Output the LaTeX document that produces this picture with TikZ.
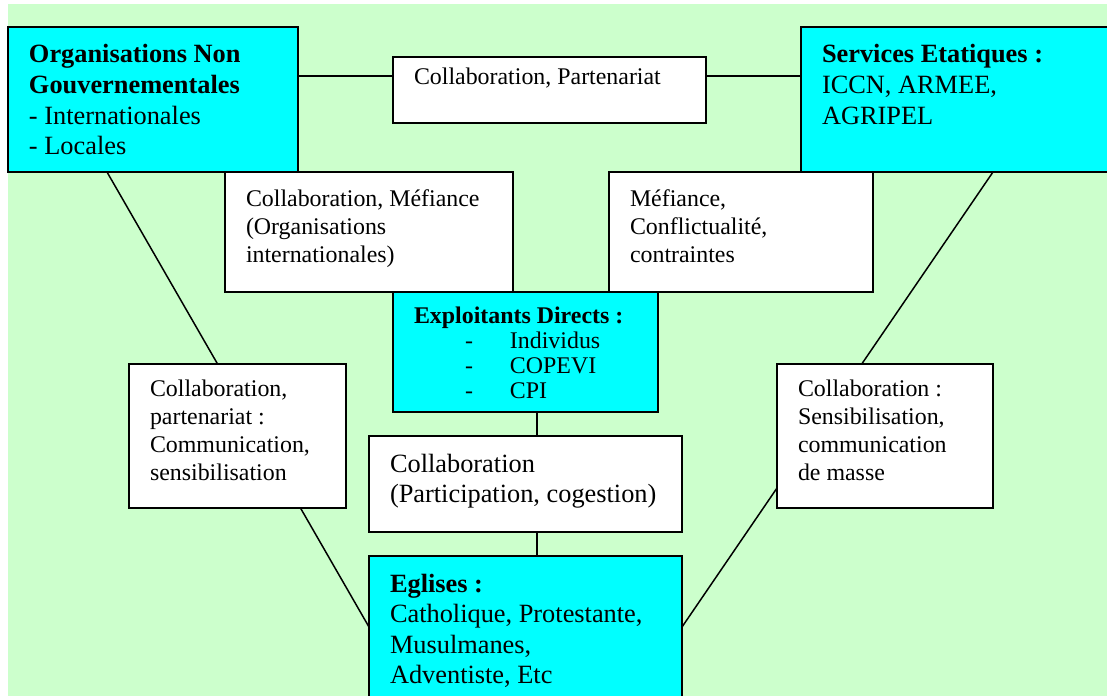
\documentclass[tikz,border=0pt]{standalone}
\usepackage{fontspec}
\setmainfont{Liberation Serif}
\usetikzlibrary{calc,backgrounds}

\newlength{\px}
\setlength{\px}{0.02cm}
\definecolor{fond}{HTML}{CCFFCC}
\definecolor{bleu}{HTML}{00FFFF}
\newcommand{\grand}{\fontsize{15}{17.4}\selectfont}
\newcommand{\petit}{\fontsize{13.6}{15.9}\selectfont}
% width, height, first baseline, text
\newcommand{\cadre}[4]{\parbox[t][#2\px][t]{#1\px}{\raggedright\leftskip=21\px\rule{0pt}{#3\px}#4}}
\newcommand{\tiret}[1]{\hspace*{51\px}\makebox[45\px][l]{-}#1}

\tikzset{
  acteur/.style={draw, fill=bleu, line width=1.1pt, inner sep=0pt, outer sep=0pt, anchor=north west},
  relation/.style={acteur, fill=white},
  lien/.style={line width=0.85pt}
}

\begin{document}
\begin{tikzpicture}[x=0.02cm, y=-0.02cm]
  \useasboundingbox (0,0) rectangle (1107,696);

  % actors
  \node[acteur] (ngo) at (8,27) {\cadre{290}{145}{36}{\grand\textbf{Organisations Non}\\
    \textbf{Gouvernementales}\\- Internationales\\- Locales}};
  \node[acteur] (svc) at (801,27) {\cadre{320}{145}{36}{\grand\textbf{Services Etatiques :}\\
    ICCN, ARMEE,\\AGRIPEL}};
  \node[acteur] (expl) at (393,292) {\cadre{265}{120}{31}{\fontsize{13.6}{14.3}\selectfont
    \textbf{Exploitants Directs :}\\\tiret{Individus}\\\tiret{COPEVI}\\\tiret{CPI}}};
  \node[acteur] (egl) at (369,556) {\cadre{313}{160}{36}{\grand\textbf{Eglises :}\\
    Catholique, Protestante,\\Musulmanes,\\Adventiste, Etc}};

  % relations
  \node[relation] (part) at (393,57) {\cadre{313}{66}{28}{\petit Collaboration, Partenariat}};
  \node[relation] (mefa) at (225,172) {\cadre{288}{120}{35}{\petit Collaboration, Méfiance\\
    (Organisations\\internationales)}};
  \node[relation] (mefb) at (609,172) {\cadre{264}{120}{35}{\petit Méfiance,\\
    Conflictualité,\\contraintes}};
  \node[relation] (gauche) at (129,364) {\cadre{217}{144}{33}{\petit Collaboration,\\
    partenariat :\\Communication,\\sensibilisation}};
  \node[relation] (droite) at (777,364) {\cadre{216}{144}{33}{\petit Collaboration :\\
    Sensibilisation,\\communication\\de masse}};
  \node[relation] (coll) at (369,436) {\cadre{313}{96}{36}{\grand Collaboration\\
    (Participation, cogestion)}};

  \begin{scope}[on background layer]
    \fill[fond] (8,4) rectangle (1107,696);
    \coordinate (pg) at ($(part.north west)+(0,19)$);
    \coordinate (pd) at ($(part.north east)+(0,19)$);
    \coordinate (axe) at (537,0);
    \draw[lien] (ngo.east |- pg) -- (pg);
    \draw[lien] (pd) -- (svc.west |- pd);
    \draw[lien] (expl.south -| axe) -- (coll.north -| axe);
    \draw[lien] (coll.south -| axe) -- (egl.north -| axe);
    \draw[lien] ($(ngo.south west)+(99,0)$) -- ($(egl.north west)+(0,71)$);
    \draw[lien] ($(svc.south west)+(192,0)$) -- ($(egl.north east)+(0,71)$);
  \end{scope}
\end{tikzpicture}
\end{document}
